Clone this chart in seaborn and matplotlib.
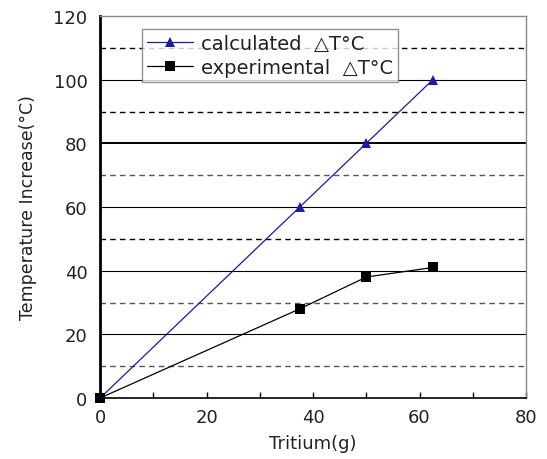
import matplotlib
matplotlib.use("Agg")
import matplotlib.pyplot as plt
import seaborn as sns
import pandas as pd

tritium = [0, 37.5, 50, 62.5]
calculated = [0, 60, 80, 100]
experimental = [0, 28, 38, 41]

sns.set_theme(style="white")
plt.rcParams['font.family'] = ['DejaVu Sans']

lab_c = "calculated  \u25b3T\u00b0C"
lab_e = "experimental  \u25b3T\u00b0C"
df = pd.DataFrame({
    "x": tritium * 2,
    "y": calculated + experimental,
    "series": [lab_c] * 4 + [lab_e] * 4,
})

fig = plt.figure(figsize=(5.47, 4.60), dpi=100)
ax = fig.add_axes([0.183, 0.1326, 0.7786, 0.8304])

# grid lines
for v in [20, 40, 60, 80, 100]:
    ax.axhline(v, color="black", lw=1.4 if v == 80 else 0.8, zorder=1)
for v in [10, 30, 50, 70, 90, 110]:
    ax.axhline(v, color="black" if v in (50, 90, 110) else "#555555",
               lw=1.0, ls=(0, (4, 3)), zorder=1)

sns.lineplot(data=df, x="x", y="y", hue="series", style="series",
             markers={lab_c: "^", lab_e: "s"},
             dashes=False, palette={lab_c: "#1a1aa8", lab_e: "black"},
             markersize=7.5, markeredgewidth=0, lw=0.9, ax=ax, zorder=3,
             clip_on=False)

ax.set_xlim(0, 80)
ax.set_ylim(0, 120)
ax.set_xticks([0, 20, 40, 60, 80])
ax.set_xticks([10, 30, 50, 70], minor=True)
ax.set_yticks([0, 20, 40, 60, 80, 100, 120])
ax.tick_params(axis="x", which="both", direction="in", length=4, width=1,
               colors="black", labelsize=13, pad=7, bottom=True)
ax.tick_params(axis="y", which="both", direction="out", length=0,
               labelsize=13, pad=9, left=True)
for lab in ax.get_xticklabels() + ax.get_yticklabels():
    lab.set_color("#222222")

ax.spines["left"].set_color("black")
ax.spines["left"].set_linewidth(2.0)
ax.spines["bottom"].set_color("black")
ax.spines["bottom"].set_linewidth(1.2)
ax.spines["top"].set_color("#888888")
ax.spines["right"].set_color("#888888")
ax.spines["top"].set_linewidth(1.0)
ax.spines["right"].set_linewidth(1.0)

ax.set_xlabel("Tritium(g)", fontsize=13, color="#222222", labelpad=6)
ax.set_ylabel("Temperature Increase(\u00b0C)", fontsize=12.5, color="#222222", labelpad=12)

leg = ax.legend(loc="upper left", bbox_to_anchor=(0.098, 0.966), fontsize=14,
                frameon=True, fancybox=False, edgecolor="#777777",
                borderpad=0.25, labelspacing=0.25, handlelength=2.4,
                handletextpad=0.4, borderaxespad=0)
leg.get_frame().set_linewidth(1.0)
leg.set_zorder(5)
for t in leg.get_texts():
    t.set_color("#222222")

fig.savefig("out.png", dpi=100, facecolor="white")
